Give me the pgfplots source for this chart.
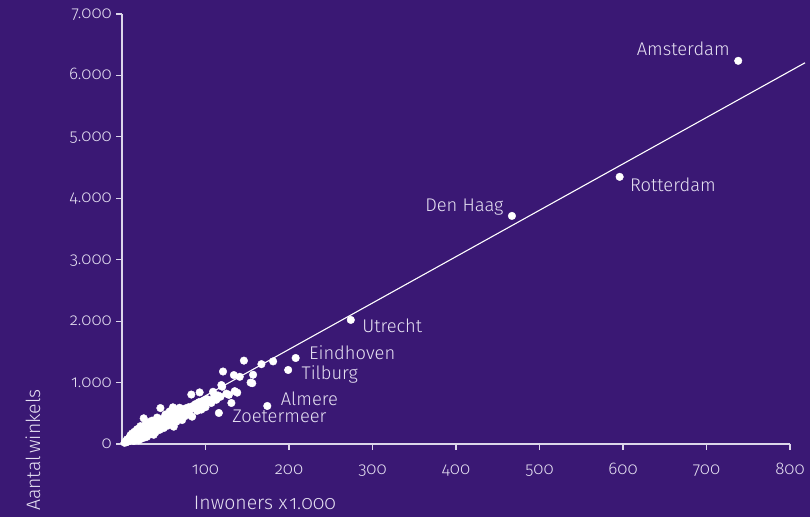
\documentclass[border=0pt]{standalone}
\usepackage{fontspec}
\newfontfamily\ff{Fira Sans Light}[Numbers=OldStyle]
\usepackage{pgfplots}
\pgfplotsset{compat=1.18}
\definecolor{bg}{HTML}{3A1874}
\definecolor{fg}{HTML}{E6E1F2}
\definecolor{ax}{HTML}{DCD6EA}
\newcommand{\lab}{\ff\fontsize{18.4}{22}\selectfont}
\newcommand{\axt}{\ff\fontsize{19.5}{23}\selectfont}
\newcommand{\tl}[1]{\mbox{\ff\fontsize{17}{20}\selectfont #1}}
\begin{document}
\begin{tikzpicture}
\fill[bg] (0,0) rectangle (810bp,517bp);
\begin{axis}[
  at={(122bp,73bp)}, anchor=south west, scale only axis,
  width=668bp, height=430bp,
  xmin=0, xmax=800, ymin=0, ymax=7000,
  axis x line*=bottom, axis y line*=left,
  axis line style={draw=ax, line width=1.1bp, -},
  xtick={100,200,300,400,500,600,700,800},
  xticklabels={\tl{100},\tl{200},\tl{300},\tl{400},\tl{500},\tl{600},\tl{700},\tl{800}},
  ytick={0,1000,2000,3000,4000,5000,6000,7000},
  yticklabels={\tl{0},\tl{1.000},\tl{2.000},\tl{3.000},\tl{4.000},\tl{5.000},\tl{6.000},\tl{7.000}},
  tick align=outside, major tick length=6bp,
  tick style={draw=ax, line width=1.1bp},
  ticklabel style={font=\ff\fontsize{17}{20}\selectfont, text=fg, inner sep=0pt, text height=1ex, text depth=0pt},
  xticklabel style={anchor=north, yshift=-20bp},
  yticklabel style={anchor=north east, xshift=-4bp},
  clip=false,
]
\addplot[draw=white, line width=1.1bp, no marks] coordinates {(5,68) (818,6206)};
\addplot[only marks, mark=*, mark size=3.8bp, mark options={fill=white, draw=white}] coordinates {
(3,20)(4,35)(5,28)(5,45)(6,40)(7,55)(7,38)(8,62)(8,48)(9,70)(9,55)(10,80)(10,60)(11,90)(11,72)(12,95)(12,78)(13,110)(13,85)(14,100)(14,120)(15,90)(15,130)(16,115)(16,140)(17,105)(17,150)(18,125)(18,160)(19,140)(19,110)(20,170)(20,130)(21,155)(21,185)(22,120)(22,200)(23,165)(24,150)(24,210)(25,180)(25,230)(26,140)(26,200)(27,250)(28,175)(28,220)(29,260)(30,190)(30,235)(31,160)(32,280)(32,215)(33,250)(34,200)(35,300)(35,260)(36,230)(37,320)(38,280)(38,210)(40,300)(40,350)(41,250)(42,330)(43,380)(44,290)(45,350)(46,400)(47,320)(48,370)(50,420)(50,340)(52,390)(53,300)(54,450)(55,410)(56,360)(58,470)(58,420)(60,440)(61,500)(62,400)(62,282)(64,480)(65,520)(66,450)(67,400)(68,500)(70,540)(72,470)(72,390)(73,560)(75,520)(76,580)(78,540)(80,600)(82,560)(84,445)(85,620)(87,580)(88,650)(90,610)(92,680)(95,640)(98,700)(100,660)(102,730)(105,690)(110,760)(113,720)(115,790)(118,770)(125,820)(128,800)
(15,200)(18,240)(22,290)(28,320)(33,360)(36,380)(12,170)(10,140)(20,60)(24,90)(30,120)(35,160)(40,190)(45,230)(50,260)(55,300)(60,340)(65,360)(70,420)(75,450)(80,480)(90,540)(95,560)(100,600)(42,430)(52,480)(57,530)(63,560)(48,280)(38,150)(16,70)(28,110)(14,50)(9,100)(6,75)
(26,418)(46,585)(61,597)(69,590)(66,560)(83,805)(93,840)(109,850)(107,668)(131,668)(120,933)(119,960)(135,860)(138,836)(154,1000)(156,990)(134,1122)(141,1094)(157,1127)(121,1180)(146,1357)(167,1300)(181,1345)
(738,6238)(596,4349)(467,3713)(274,2020)(208,1400)(199,1205)(174,619)(116,505)
};
\node[anchor=base east, font=\lab, text=fg, xshift=-5bp, yshift=5bp] at (axis cs:738,6238) {Amsterdam};
\node[anchor=base west, font=\lab, text=fg, xshift=7bp, yshift=-15bp] at (axis cs:596,4349) {Rotterdam};
\node[anchor=base east, font=\lab, text=fg, xshift=-5bp, yshift=4bp] at (axis cs:467,3713) {Den Haag};
\node[anchor=base west, font=\lab, text=fg, xshift=8bp, yshift=-13bp] at (axis cs:274,2020) {Utrecht};
\node[anchor=base west, font=\lab, text=fg, xshift=10bp, yshift=-1bp] at (axis cs:208,1400) {Eindhoven};
\node[anchor=base west, font=\lab, text=fg, xshift=10bp, yshift=-10bp] at (axis cs:199,1205) {Tilburg};
\node[anchor=base west, font=\lab, text=fg, xshift=10bp, yshift=0bp] at (axis cs:174,619) {Almere};
\node[anchor=base west, font=\lab, text=fg, xshift=10bp, yshift=-10bp] at (axis cs:116,505) {Zoetermeer};
\end{axis}
\node[rotate=90, anchor=base, font=\axt, text=fg] at (40bp,67bp) {Aantal\hspace{0.12em}winkels};
\node[anchor=base, font=\axt, text=fg] at (265bp,8bp) {Inwoners x\hspace{0.1em}1.000};
\end{tikzpicture}
\end{document}
